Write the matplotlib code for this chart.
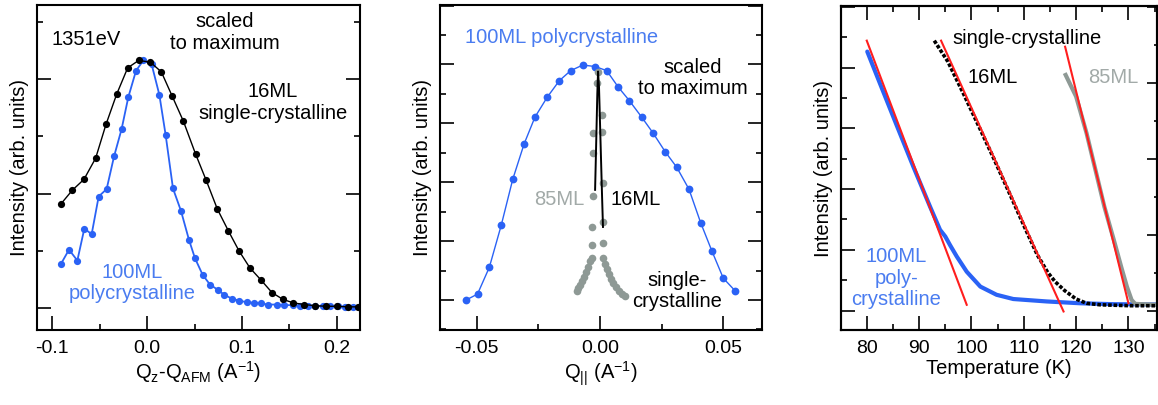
import matplotlib as mpl
mpl.use('Agg')
import matplotlib.pyplot as plt
from matplotlib.ticker import MultipleLocator, NullFormatter

plt.rcParams['font.family'] = ['Liberation Sans', 'DejaVu Sans']
plt.rcParams['mathtext.fontset'] = 'custom'
plt.rcParams['mathtext.rm'] = 'Liberation Sans'
plt.rcParams['mathtext.it'] = 'Liberation Sans:italic'

BLUE = '#2a62f5'
BLUE_TXT = '#4a7cf0'
GREY = '#8e9995'
GREY_TXT = '#a2aaa8'
RED = '#ff1e1e'

# ---- panel (a): Qz scans, 1351 eV ----
qz_16 = [-0.0909, -0.0789, -0.0666, -0.0543, -0.0434, -0.0321, -0.0205, -0.0089,
         0.0034, 0.0150, 0.0266, 0.0382, 0.0512, 0.0624, 0.0741, 0.0857, 0.0969,
         0.1085, 0.1201, 0.1317, 0.1433, 0.1542, 0.1658, 0.1774, 0.1887, 0.1999,
         0.2115, 0.2221]
int_16 = [1.82, 2.06, 2.25, 2.62, 3.21, 3.74, 4.20, 4.33, 4.30, 4.13, 3.70, 3.27,
          2.69, 2.23, 1.73, 1.35, 1.00, 0.70, 0.49, 0.27, 0.15, 0.09, 0.06, 0.04,
          0.03, 0.03, 0.02, 0.02]
qz_100 = [-0.0909, -0.0824, -0.0736, -0.0662, -0.0585, -0.0511, -0.0427, -0.0349,
          -0.0269, -0.0198, -0.0117, -0.0040, 0.0048, 0.0129, 0.0196, 0.0273,
          0.0357, 0.0442, 0.0505, 0.0586, 0.0663, 0.0744, 0.0814, 0.0899, 0.0973,
          0.1050, 0.1127, 0.1201, 0.1278, 0.1366, 0.1444, 0.1535, 0.1614, 0.1693,
          0.1772, 0.1851, 0.1930, 0.2009, 0.2088, 0.2167, 0.2246]
int_100 = [0.77, 1.02, 0.83, 1.39, 1.29, 1.95, 2.08, 2.65, 3.13, 3.69, 4.15, 4.33,
           4.26, 3.73, 3.02, 2.09, 1.70, 1.19, 0.87, 0.58, 0.41, 0.32, 0.23, 0.16,
           0.13, 0.10, 0.09, 0.08, 0.06, 0.06, 0.05, 0.05, 0.04, 0.04, 0.03, 0.03,
           0.03, 0.03, 0.02, 0.02, 0.02]

# ---- panel (b): Q_parallel scans ----
qp_100 = [-0.0543, -0.0497, -0.0449, -0.0401, -0.0354, -0.0308, -0.0264, -0.0214,
          -0.0165, -0.0119, -0.0070, -0.0020, 0.0027, 0.0074, 0.0119, 0.0169,
          0.0216, 0.0264, 0.0311, 0.0361, 0.0408, 0.0453, 0.0500, 0.0547]
ip_100 = [0.00, 0.20, 1.11, 2.53, 4.10, 5.30, 6.21, 6.89, 7.45, 7.79, 7.98, 7.93,
          7.79, 7.23, 6.77, 6.21, 5.66, 5.04, 4.51, 3.76, 2.63, 1.68, 0.74, 0.32]
qp_85 = [-0.0094, -0.0089, -0.0081, -0.0073, -0.0065, -0.0057, -0.0049, -0.0041,
         -0.0034, -0.0031, -0.0031, -0.0027, -0.0027, -0.0027, -0.0013, -0.0007,
         0.0007, 0.0007, 0.0011, 0.0013, 0.0013, 0.0013, 0.0020, 0.0028, 0.0037,
         0.0045, 0.0053, 0.0065, 0.0077, 0.0089, 0.0101]
ip_85 = [0.31, 0.41, 0.51, 0.65, 0.78, 0.95, 1.12, 1.33, 1.43, 1.87, 2.48, 3.54,
         5.00, 5.68, 7.38, 7.76, 6.29, 5.71, 3.98, 2.65, 1.94, 1.43, 1.22, 1.05,
         0.88, 0.71, 0.58, 0.44, 0.31, 0.20, 0.15]
qp_16 = [-0.0020, -0.0017, -0.0014, -0.0011, -0.0008, -0.0004, 0.0000, 0.0004,
         0.0008, 0.0012]
ip_16 = [3.74, 4.80, 5.90, 7.00, 7.76, 7.20, 6.00, 4.80, 3.60, 2.48]

# ---- panel (c): temperature dependence ----
t_100 = [80.1, 82.5, 85.7, 88.9, 92.1, 94.0, 95.0, 95.9, 97.2, 99.1, 101.7, 104.8,
         108.0, 114.4, 120.8, 127.1, 135.7]
i_100 = [8.53, 7.49, 6.11, 4.74, 3.42, 2.66, 2.44, 2.16, 1.78, 1.28, 0.79, 0.52,
         0.38, 0.30, 0.24, 0.21, 0.20]
t_16 = [92.9, 95.5, 98.6, 101.6, 104.4, 107.2, 110.1, 112.6, 114.6, 116.0, 117.8,
        120.0, 122.0, 124.6, 130.3, 135.7]
i_16 = [8.89, 8.20, 7.10, 6.00, 4.96, 3.89, 2.77, 1.83, 1.25, 0.95, 0.66, 0.38,
        0.24, 0.19, 0.16, 0.16]
t_85 = [118.0, 120.0, 122.0, 123.7, 125.4, 127.2, 128.6, 129.7, 130.6, 131.3, 135.7]
i_85 = [7.76, 7.05, 5.84, 4.63, 3.42, 2.33, 1.45, 0.79, 0.35, 0.22, 0.19]
fit_100 = ([80.0, 99.1], [8.89, 0.19])
fit_16 = ([94.2, 117.6], [8.89, -0.03])
fit_85 = ([117.9, 130.0], [8.69, 0.24])

fig = plt.figure(figsize=(11.58, 4.05), dpi=100)
ax1 = fig.add_axes([0.0320, 0.1852, 0.2789, 0.8025])
ax2 = fig.add_axes([0.3800, 0.1852, 0.2778, 0.8025])
ax3 = fig.add_axes([0.7263, 0.1852, 0.2729, 0.7999])

FS = 14.5


def style(ax, top=False):
    for s in ax.spines.values():
        s.set_linewidth(1.5)
    ax.tick_params(which='both', direction='in', left=True, right=True,
                   top=top, bottom=True, width=1.2, labelsize=14, pad=7,
                   labelleft=False)
    ax.tick_params(which='major', length=10)
    ax.tick_params(which='minor', length=4.5)
    ax.yaxis.set_major_locator(MultipleLocator(2))
    ax.yaxis.set_minor_locator(MultipleLocator(1))
    ax.set_ylabel('Intensity (arb. units)', fontsize=FS, labelpad=6)


# panel (a)
ax1.plot(qz_16, int_16, '-', color='black', lw=1.0, marker='o', ms=5.2,
         mec='none', zorder=3)
ax1.plot(qz_100, int_100, '-', color=BLUE, lw=1.3, marker='o', ms=5.2,
         mec='none', zorder=2)
ax1.set_xlim(-0.1161, 0.2246)
ax1.set_ylim(-0.385, 5.30)
ax1.xaxis.set_major_locator(MultipleLocator(0.1))
ax1.xaxis.set_minor_locator(MultipleLocator(0.05))
style(ax1)
ax1.set_xticks([-0.1, 0.0, 0.1, 0.2])
ax1.set_xticklabels(['-0.1', '0.0', '0.1', '0.2'])
ax1.set_xlabel(r'Q$_\mathrm{z}$-Q$_\mathrm{AFM}$ (A$^\mathrm{-1}$)', fontsize=FS, labelpad=2)
ax1.text(0.045, 0.893, '1351eV', transform=ax1.transAxes, fontsize=FS,
         ha='left', va='center')
ax1.text(0.58, 0.915, 'scaled\nto maximum', transform=ax1.transAxes, fontsize=FS,
         ha='center', va='center', linespacing=1.15)
ax1.text(0.73, 0.70, '16ML\nsingle-crystalline', transform=ax1.transAxes,
         fontsize=FS, ha='center', va='center', linespacing=1.15)
ax1.text(0.295, 0.145, '100ML\npolycrystalline', transform=ax1.transAxes,
         fontsize=FS, ha='center', va='center', color=BLUE_TXT, linespacing=1.15)

# panel (b)
ax2.plot(qp_100, ip_100, '-', color=BLUE, lw=1.0, marker='o', ms=5.6,
         mec='none', zorder=2)
ax2.plot(qp_85, ip_85, 'o', color=GREY, ms=5.5, mec='none', zorder=3)
ax2.plot(qp_16, ip_16, '-', color='black', lw=1.4, zorder=4)
ax2.set_xlim(-0.0649, 0.0656)
ax2.set_ylim(-1.02, 10.02)
ax2.xaxis.set_major_locator(MultipleLocator(0.05))
ax2.xaxis.set_minor_locator(MultipleLocator(0.025))
style(ax2)
ax2.set_xticks([-0.05, 0.0, 0.05])
ax2.set_xticklabels(['-0.05', '0.00', '0.05'])
ax2.set_xlabel(r'Q$_\mathrm{||}$ (A$^\mathrm{-1}$)', fontsize=FS, labelpad=2)
ax2.text(0.078, 0.90, '100ML polycrystalline', transform=ax2.transAxes,
         fontsize=FS, ha='left', va='center', color=BLUE_TXT)
ax2.text(0.785, 0.775, 'scaled\nto maximum', transform=ax2.transAxes,
         fontsize=FS, ha='center', va='center', linespacing=1.15)
ax2.text(0.45, 0.402, '85ML', transform=ax2.transAxes, fontsize=FS,
         ha='right', va='center', color=GREY_TXT)
ax2.text(0.53, 0.402, '16ML', transform=ax2.transAxes, fontsize=FS,
         ha='left', va='center')
ax2.text(0.738, 0.12, 'single-\ncrystalline', transform=ax2.transAxes,
         fontsize=FS, ha='center', va='center', linespacing=1.15)

# panel (c)
ax3.plot(t_100, i_100, '-', color=BLUE, lw=3.0, solid_capstyle='round', zorder=2)
ax3.plot(t_16, i_16, color='black', lw=2.6, linestyle=(0, (1.0, 0.5)), zorder=3)
ax3.plot(t_85, i_85, '-', color=GREY, lw=3.0, zorder=2)
for fx, fy in (fit_100, fit_16, fit_85):
    ax3.plot(fx, fy, '-', color=RED, lw=1.5, zorder=4)
ax3.set_xlim(75.09, 135.47)
ax3.set_ylim(-0.64, 10.03)
ax3.xaxis.set_major_locator(MultipleLocator(10))
ax3.xaxis.set_minor_locator(MultipleLocator(5))
style(ax3, top=True)
ax3.tick_params(which='both', right=False)
ax3.set_xlabel('Temperature (K)', fontsize=FS, labelpad=2)
ax3b = ax3.twinx()
ax3b.set_ylim(-0.5, 8.03)
ax3b.yaxis.set_major_locator(MultipleLocator(2))
ax3b.yaxis.set_minor_locator(MultipleLocator(1))
ax3b.yaxis.set_major_formatter(NullFormatter())
ax3b.tick_params(which='both', direction='in', width=1.2)
ax3b.tick_params(which='major', length=7)
ax3b.tick_params(which='minor', length=2)
for s in ax3b.spines.values():
    s.set_linewidth(1.5)
ax3.text(0.59, 0.90, 'single-crystalline', transform=ax3.transAxes,
         fontsize=FS, ha='center', va='center')
ax3.text(0.48, 0.78, '16ML', transform=ax3.transAxes, fontsize=FS,
         ha='center', va='center')
ax3.text(0.86, 0.78, '85ML', transform=ax3.transAxes, fontsize=FS,
         ha='center', va='center', color=GREY_TXT)
ax3.text(0.175, 0.16, '100ML\npoly-\ncrystalline', transform=ax3.transAxes,
         fontsize=FS, ha='center', va='center', color=BLUE_TXT, linespacing=1.15)

fig.savefig('out.png', dpi=100)
